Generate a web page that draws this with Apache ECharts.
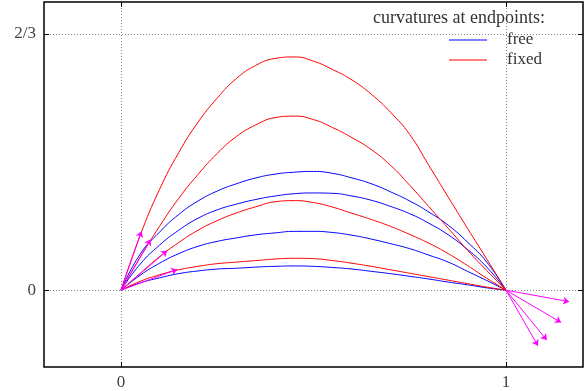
<!DOCTYPE html>
<html>
<head>
<meta charset="utf-8">
<script src="https://cdn.jsdelivr.net/npm/echarts@6/dist/echarts.min.js"></script>
<style>
  html, body { margin: 0; padding: 0; background: #fff; }
  #chart { width: 586px; height: 391px; }
</style>
</head>
<body>
<div id="chart"></div>
<script>
// sample positions along x
const xs = [0, 0.05, 0.1, 0.15, 0.2, 0.25, 0.3, 0.35, 0.4, 0.45, 0.5, 0.55, 0.6, 0.65, 0.7, 0.75, 0.8, 0.85, 0.9, 0.95, 1]

// free curvature at the endpoints (blue)
const free1 = [0, 0.094, 0.151, 0.197, 0.232, 0.258, 0.277, 0.292, 0.302, 0.307, 0.309, 0.304, 0.292, 0.277, 0.256, 0.232, 0.203, 0.169, 0.125, 0.073, 0]
const free2 = [0, 0.068, 0.117, 0.156, 0.187, 0.209, 0.224, 0.236, 0.245, 0.251, 0.253, 0.252, 0.245, 0.234, 0.218, 0.199, 0.174, 0.144, 0.106, 0.060, 0]
const free3 = [0, 0.039, 0.070, 0.095, 0.114, 0.127, 0.136, 0.144, 0.149, 0.153, 0.153, 0.150, 0.143, 0.133, 0.121, 0.108, 0.091, 0.073, 0.049, 0.025, 0]
const free4 = [0, 0.019, 0.032, 0.043, 0.050, 0.055, 0.057, 0.060, 0.062, 0.063, 0.062, 0.059, 0.055, 0.049, 0.043, 0.036, 0.029, 0.021, 0.014, 0.006, 0]

// fixed curvature at the endpoints (red)
const fixed1 = [0, 0.143, 0.262, 0.358, 0.437, 0.500, 0.551, 0.585, 0.603, 0.607, 0.596, 0.574, 0.547, 0.510, 0.463, 0.405, 0.324, 0.242, 0.161, 0.081, 0]
const fixed2 = [0, 0.086, 0.166, 0.239, 0.301, 0.356, 0.400, 0.430, 0.449, 0.453, 0.444, 0.423, 0.397, 0.366, 0.325, 0.273, 0.217, 0.161, 0.104, 0.051, 0]
const fixed3 = [0, 0.044, 0.087, 0.124, 0.156, 0.181, 0.201, 0.217, 0.230, 0.233, 0.228, 0.216, 0.200, 0.184, 0.166, 0.145, 0.122, 0.095, 0.064, 0.031, 0]
const fixed4 = [0, 0.023, 0.040, 0.053, 0.062, 0.069, 0.073, 0.077, 0.081, 0.083, 0.082, 0.077, 0.070, 0.062, 0.053, 0.044, 0.035, 0.026, 0.017, 0.008, 0]

// tangent vectors drawn as arrows
const startPoint = [0, 0]
const startTips = [[0.053, 0.153], [0.077, 0.132], [0.120, 0.103], [0.146, 0.054]]
const endPoint = [1, 0]
const endTips = [[1.164, -0.030], [1.143, -0.084], [1.106, -0.130], [1.083, -0.145]]

// ticks
const xTickValues = [0, 1]
const yTickValues = [0, 2 / 3]
const yTickLabels = ['0', '2/3']

const serif = 'Liberation Serif'
const chart = echarts.init(document.getElementById('chart'))

const pairs = ys => xs.map((x, i) => [x, ys[i]])

let series = []
const curves = [
  { name: 'free', color: '#0000ff', data: free1 },
  { name: 'free', color: '#0000ff', data: free2 },
  { name: 'free', color: '#0000ff', data: free3 },
  { name: 'free', color: '#0000ff', data: free4 },
  { name: 'fixed', color: '#ff0000', data: fixed1 },
  { name: 'fixed', color: '#ff0000', data: fixed2 },
  { name: 'fixed', color: '#ff0000', data: fixed3 },
  { name: 'fixed', color: '#ff0000', data: fixed4 }
]
curves.forEach(c => {
  series.push({
    name: c.name,
    type: 'line',
    smooth: 0.5,
    symbol: 'none',
    color: c.color,
    lineStyle: { color: c.color, width: 1 },
    data: pairs(c.data),
    z: 3
  })
})

let arrows = []
startTips.forEach(t => arrows.push({ coords: [startPoint, t] }))
endTips.forEach(t => arrows.push({ coords: [endPoint, t] }))
series.push({
  type: 'lines',
  coordinateSystem: 'cartesian2d',
  symbol: ['none', 'arrow'],
  symbolSize: 6,
  lineStyle: { color: '#ff00ff', width: 1, opacity: 1 },
  data: arrows,
  z: 4
})

const gridLine = { show: true, lineStyle: { color: '#888', type: [1, 2], width: 1 } }
const tick = vals => ({ show: true, inside: true, length: 5, customValues: vals, lineStyle: { color: '#000', width: 1 } })
const noLine = { show: false, onZero: false }

chart.setOption({
  animation: false,
  title: {
    text: 'curvatures at endpoints:',
    right: 41,
    top: 9,
    padding: 0,
    textStyle: { fontFamily: serif, fontSize: 18, fontWeight: 'normal', color: '#333' }
  },
  legend: {
    data: ['free', 'fixed'],
    orient: 'vertical',
    left: 449,
    top: 31,
    padding: 0,
    icon: 'rect',
    itemWidth: 38,
    itemHeight: 1.2,
    itemGap: 2,
    textStyle: { fontFamily: serif, fontSize: 17, color: '#333', padding: [0, 0, 0, 15], lineHeight: 18 }
  },
  grid: {
    left: 44,
    right: 3,
    top: 2,
    bottom: 24,
    show: true,
    borderColor: '#000',
    borderWidth: 1.5
  },
  xAxis: [
    {
      type: 'value', min: -0.2, max: 1.2, position: 'bottom',
      axisLine: noLine,
      axisTick: tick(xTickValues),
      axisLabel: { customValues: xTickValues, margin: 7, fontFamily: serif, fontSize: 17, color: '#444' },
      splitLine: gridLine
    },
    {
      type: 'value', min: -0.2, max: 1.2, position: 'top',
      axisLine: noLine,
      axisTick: tick(xTickValues),
      axisLabel: { show: false },
      splitLine: { show: false }
    }
  ],
  yAxis: [
    {
      type: 'value', min: -0.2, max: 0.75, position: 'left',
      axisLine: noLine,
      axisTick: tick(yTickValues),
      axisLabel: {
        customValues: yTickValues, margin: 8, fontFamily: serif, fontSize: 17, color: '#444',
        formatter: v => yTickLabels[yTickValues.findIndex(t => Math.abs(t - v) < 1e-6)] || ''
      },
      splitLine: gridLine
    },
    {
      type: 'value', min: -0.2, max: 0.75, position: 'right',
      axisLine: noLine,
      axisTick: tick(yTickValues),
      axisLabel: { show: false },
      splitLine: { show: false }
    }
  ],
  series: series
})
</script>
</body>
</html>
